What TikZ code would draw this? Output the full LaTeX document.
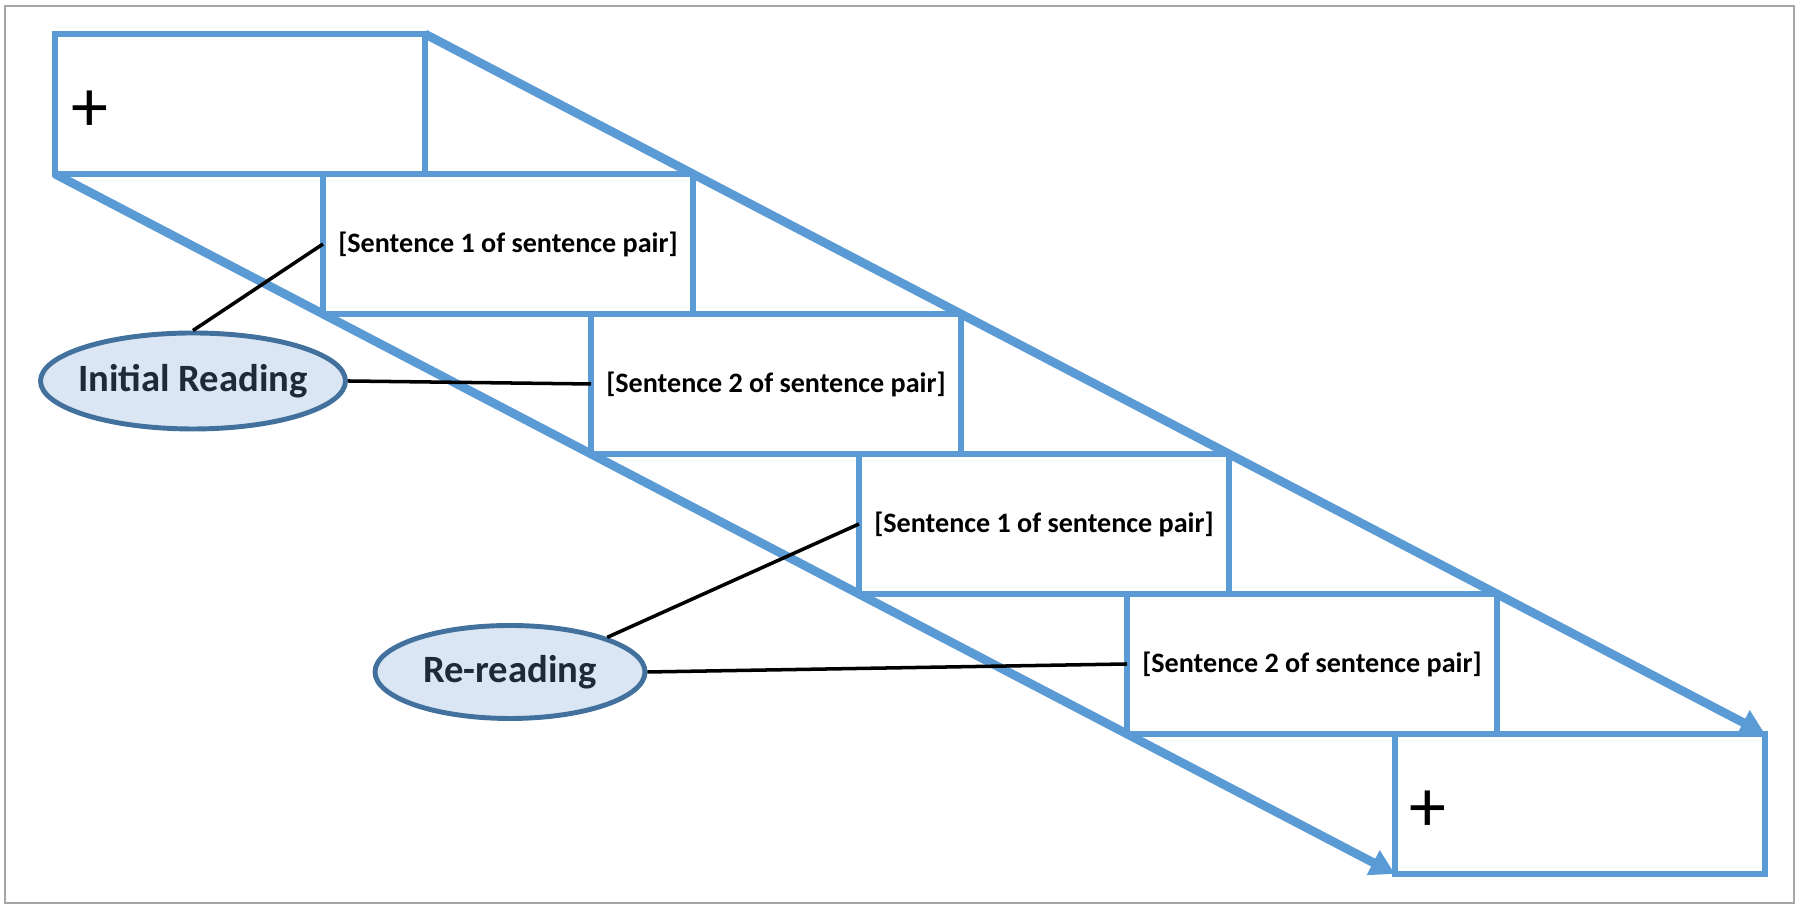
\documentclass[tikz,border=0pt]{standalone}
\usepackage{fontspec}
\setmainfont{Carlito}
\usetikzlibrary{positioning,arrows.meta,shapes.geometric}
\definecolor{stepblue}{RGB}{91,155,213}
\definecolor{ovalblue}{RGB}{65,113,156}
\definecolor{ovalfill}{RGB}{218,230,243}
\definecolor{ovaltext}{RGB}{30,42,56}
\definecolor{framegray}{RGB}{166,166,166}

\begin{document}
\begin{tikzpicture}[
        screen/.style={draw=stepblue, fill=white, line width=1.7pt, minimum width=3.7cm,
            minimum height=1.4cm, inner sep=0pt, outer sep=0pt, anchor=north west,
            font=\bfseries\fontsize{8}{9.6}\selectfont},
        phase/.style={ellipse, draw=ovalblue, fill=ovalfill, line width=1.4pt, text=ovaltext,
            inner xsep=-4mm, inner ysep=0pt, font=\bfseries\fontsize{11}{13}\selectfont},
        cross/.style={font=\fontsize{21}{24}\selectfont, yshift=-2pt},
        link/.style={black, line width=1pt},
        flow/.style={stepblue, line width=2.5pt, -{Triangle[length=7pt,width=7.5pt]}}
    ]
    \useasboundingbox (0,0) rectangle (18,9.1);
    \draw [framegray, line width=0.6pt] (0.05,0.07) rectangle (17.94,9.04);

    % the six screens, one below and right of the other
    \node [screen] (fix1) at (0.55,8.76)  {};
    \node [screen] (s1a)  at (3.23,7.36)  {[Sentence 1 of sentence pair]};
    \node [screen] (s2a)  at (5.91,5.96)  {[Sentence 2 of sentence pair]};
    \node [screen] (s1b)  at (8.59,4.56)  {[Sentence 1 of sentence pair]};
    \node [screen] (s2b)  at (11.27,3.16) {[Sentence 2 of sentence pair]};
    \node [screen] (fix2) at (13.95,1.76) {};

    \node [cross, right=0.04cm of fix1.west] (plus1) {+};
    \node [cross, right=0.02cm of fix2.west] (plus2) {+};

    % time runs down the stairs
    \draw [flow] (fix1.north east) -- (fix2.north east);
    \draw [flow] (fix1.south west) -- (fix2.south west);

    \node [phase, minimum width=3.05cm, minimum height=0.96cm] (initial) at (1.93,5.29) {Initial Reading};
    \node [phase, minimum width=2.70cm, minimum height=0.93cm] (reread)  at (5.10,2.38) {Re-reading};

    \draw [link] (initial.north)     -- (s1a.west);
    \draw [link] (initial.east)      -- (s2a.west);
    \draw [link] (reread.north east) -- (s1b.west);
    \draw [link] (reread.east)       -- (s2b.west);
\end{tikzpicture}
\end{document}
